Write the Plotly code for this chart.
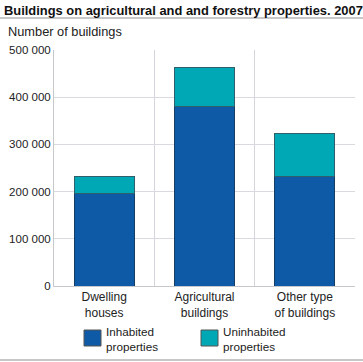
import plotly.graph_objects as go

categories = ["Dwelling<br>houses", "Agricultural<br>buildings", "Other type<br>of buildings"]
inhabited = [196000, 380000, 232000]
uninhabited = [37000, 83000, 92000]
series_names = ["Inhabited<br>properties", "Uninhabited<br>properties"]
tick_vals = [0, 100000, 200000, 300000, 400000, 500000]
tick_text = ["0", "100 000", "200 000", "300 000", "400 000", "500 000"]

c_inh = "#0f5aa6"
c_uninh = "#00a8b5"
font = "Liberation Sans, Arial, sans-serif"

fig = go.Figure()
fig.add_trace(go.Bar(x=categories, y=inhabited, name=series_names[0], marker_color=c_inh,
                     marker_line=dict(color="#163d63", width=1), width=0.6, showlegend=False))
fig.add_trace(go.Bar(x=categories, y=uninhabited, name=series_names[1], marker_color=c_uninh,
                     marker_line=dict(color="#2f5f6a", width=1), width=0.6, showlegend=False))

fig.update_layout(
    barmode="stack",
    width=363, height=362,
    margin=dict(l=54, r=8, t=50, b=76),
    plot_bgcolor="white", paper_bgcolor="white",
    font=dict(family=font, size=11, color="#222"),
    xaxis=dict(tickson="boundaries", showgrid=True, gridcolor="#d4d5dc", gridwidth=1,
               showline=True, linecolor="#c8c8cc", ticks="", tickfont=dict(size=12, color="#222")),
    yaxis=dict(range=[0, 500000], tickvals=tick_vals, ticktext=tick_text, showgrid=True,
               gridcolor="#d9dae0", showline=True, linecolor="#c8c8cc", zeroline=False,
               ticks="", tickfont=dict(size=11.5, color="#222")),
)

# title and axis caption
fig.add_annotation(text="<b>Buildings on agricultural and and forestry properties. 2007</b>",
                   xref="paper", yref="paper", x=-52/301, y=1 + 40/236, xanchor="left", yanchor="middle",
                   showarrow=False, font=dict(size=12.9, color="#111"))
fig.add_annotation(text="Number of buildings", xref="paper", yref="paper",
                   x=-48/301, y=1 + 18/236, xanchor="left", yanchor="middle",
                   showarrow=False, font=dict(size=12.8, color="#222"))
# separator lines
fig.add_shape(type="line", xref="paper", yref="paper", x0=-54/301, x1=1 + 8/301,
              y0=1 + 32/236, y1=1 + 32/236, line=dict(color="#c8c8c8", width=2))
fig.add_shape(type="line", xref="paper", yref="paper", x0=-54/301, x1=1 + 8/301,
              y0=-74/236, y1=-74/236, line=dict(color="#c8c8c8", width=2))

# custom legend
legend_x = [84, 201]
colors = [c_inh, c_uninh]
for lx, col, name in zip(legend_x, colors, series_names):
    x0 = (lx - 54) / 301
    x1 = (lx + 17 - 54) / 301
    fig.add_shape(type="rect", xref="paper", yref="paper", x0=x0, x1=x1,
                  y0=(286 - 346) / 236, y1=(286 - 330) / 236,
                  fillcolor=col, line=dict(color="#555", width=1))
    fig.add_annotation(text=name, xref="paper", yref="paper", x=(lx + 20 - 54) / 301,
                       y=(286 - 339) / 236, xanchor="left", yanchor="middle", align="left",
                       showarrow=False, font=dict(size=11.7, color="#222"))

fig.write_html("out.html", config={"displayModeBar": False},
               post_script="document.body.style.margin='0';")
